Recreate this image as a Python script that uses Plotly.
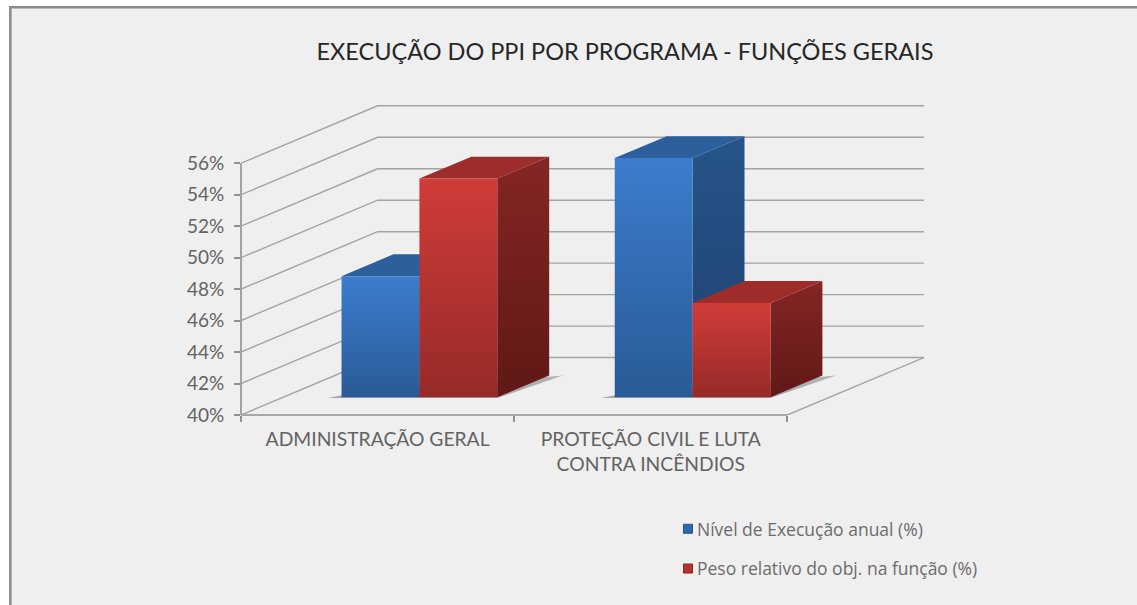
import plotly.graph_objects as go

title_text = "EXECUÇÃO DO PPI POR PROGRAMA - FUNÇÕES GERAIS"
categories = ["ADMINISTRAÇÃO GERAL", "PROTEÇÃO CIVIL E LUTA<br>CONTRA INCÊNDIOS"]
y_ticks = [40, 42, 44, 46, 48, 50, 52, 54, 56]
y_tick_labels = ["40%", "42%", "44%", "46%", "48%", "50%", "52%", "54%", "56%"]
serie_nivel = [47.7, 55.2]
serie_peso = [53.9, 46.0]
nome_nivel = "Nível de Execução anual (%)"
nome_peso = "Peso relativo do obj. na função (%)"

GRID = "#a3a3a3"
AXIS = "#8f8f8f"
BG = "#efefef"
FONT = "Lato"

# oblique projection of the depth axis, in axis units
DX = 0.5
DY = 3.65
F0, F1 = 0.308, 0.688
BAR_W = 0.285
GAP_L = 0.214

X_MAX = 2.5
Y_MIN, Y_MAX = 40, 59.7
PX_X = 273.35   # pixels per category
PX_Y = 15.75    # pixels per percentage point
LEFT, BASE = 240.8, 415

PLOT_W = X_MAX * PX_X
PLOT_H = (Y_MAX - Y_MIN) * PX_Y

BLUE = dict(front=("#3b7dcd", "#2a5a96"), top=("#2c5f9b", "#2c5f9b"), side=("#26548a", "#1f4270"))
RED = dict(front=("#d03c38", "#962a28"), top=("#9e2c2a", "#9e2c2a"), side=("#842625", "#601816"))


def px_x(p):
    return (p - LEFT) / PLOT_W


def px_y(p):
    return (BASE - p) / PLOT_H


def proj(x, y, f):
    return x + f * DX, y + f * DY


def poly(points, top, bottom):
    xs = [p[0] for p in points] + [points[0][0]]
    ys = [p[1] for p in points] + [points[0][1]]
    return go.Scatter(
        x=xs, y=ys, mode="lines", fill="toself", line=dict(width=0),
        fillgradient=dict(type="vertical", colorscale=[[0, bottom], [1, top]]),
        hoverinfo="skip", showlegend=False,
    )


def seg(points, color=GRID, width=1.4):
    return go.Scatter(
        x=[p[0] for p in points], y=[p[1] for p in points], mode="lines",
        line=dict(color=color, width=width), hoverinfo="skip", showlegend=False,
    )


def bar(x0, value, pal):
    x1 = x0 + BAR_W
    a = proj(x0, 40, F0); b = proj(x1, 40, F0)
    c = proj(x1, value, F0); d = proj(x0, value, F0)
    e = proj(x1, 40, F1); g = proj(x1, value, F1); h = proj(x0, value, F1)
    return [
        poly([b, e, g, c], *pal["side"]),
        poly([d, c, g, h], *pal["top"]),
        poly([a, b, c, d], *pal["front"]),
    ]


def shadow(x0, x1):
    pts = [proj(x0 - 0.05, 39.95, F0), proj(x1, 39.95, F0),
           proj(x1 + 0.05, 40, F1), proj(x0, 40, F0 + 0.06)]
    return poly(pts, "#b4b4b4", "#a6a6a6")


fig = go.Figure()

n = len(categories)
for v in y_ticks:
    fig.add_trace(seg([proj(0, v, 0), proj(0, v, 1), proj(n, v, 1)]))
fig.add_trace(seg([proj(n, 40, 0), proj(n, 40, 1)]))

for i in range(n):
    x0 = i + GAP_L
    fig.add_trace(shadow(x0, x0 + 2 * BAR_W))
    for t in bar(x0, serie_nivel[i], BLUE):
        fig.add_trace(t)
    for t in bar(x0 + BAR_W, serie_peso[i], RED):
        fig.add_trace(t)

for name, color, line in ((nome_nivel, "#2f68ad", "#234f85"), (nome_peso, "#b8312e", "#8a2422")):
    fig.add_trace(go.Scatter(
        x=[None], y=[None], mode="markers", name=name, legendgroup=name,
        marker=dict(symbol="square", size=9, color=color, angle=90, standoff=11,
                    line=dict(color=line, width=1)),
    ))

# panel with its grey frame
fig.add_shape(type="rect", xref="paper", yref="paper", layer="below",
              x0=px_x(10), x1=px_x(1200), y0=px_y(700), y1=px_y(7),
              fillcolor=BG, line=dict(color="#8a8a8a", width=2.5))
# axis spines stop at the last tick, so they are drawn separately from the depth area
spine = dict(color=AXIS, width=1.6)
fig.add_shape(type="line", xref="paper", yref="paper", layer="below",
              x0=0, x1=0, y0=0, y1=(y_ticks[-1] - Y_MIN) / (Y_MAX - Y_MIN), line=spine)
fig.add_shape(type="line", xref="paper", yref="paper", layer="below",
              x0=0, x1=n / X_MAX, y0=0, y1=0, line=spine)

fig.update_layout(
    width=1137, height=605, autosize=False,
    paper_bgcolor="#ffffff", plot_bgcolor="rgba(0,0,0,0)",
    margin=dict(l=LEFT, r=1137 - LEFT - PLOT_W, t=BASE - PLOT_H, b=605 - BASE),
    title=dict(text=title_text, x=625 / 1137, xref="container", xanchor="center",
               y=1 - 52 / 605, yanchor="middle",
               font=dict(family=FONT, size=23.5, color="#262626")),
    xaxis=dict(range=[0, X_MAX], tickmode="array", tickvals=[i + 0.5 for i in range(n)],
               ticktext=categories, ticks="", showgrid=False, zeroline=False, showline=False,
               minor=dict(tickmode="array", tickvals=list(range(n + 1)), ticks="outside",
                          ticklen=6, tickwidth=1.6, tickcolor=AXIS),
               ticklabelstandoff=11,
               tickfont=dict(family=FONT, size=19.3, color="#636363")),
    yaxis=dict(range=[Y_MIN, Y_MAX], tickmode="array", tickvals=y_ticks, ticktext=y_tick_labels,
               ticks="outside", ticklen=6, tickwidth=1.6, tickcolor=AXIS,
               showgrid=False, zeroline=False, showline=False, ticklabelstandoff=6,
               tickfont=dict(family=FONT, size=19, color="#636363")),
    showlegend=True,
    legend=dict(x=px_x(657), xanchor="left", y=px_y(511), yanchor="top",
                bgcolor="rgba(0,0,0,0)", tracegroupgap=14,
                font=dict(family="Open Sans", size=17.5, color="#6c6c6c")),
)

fig.write_html("out.html", config={"displayModeBar": False},
               post_script="document.body.style.margin='0';document.body.style.overflow='hidden';")
